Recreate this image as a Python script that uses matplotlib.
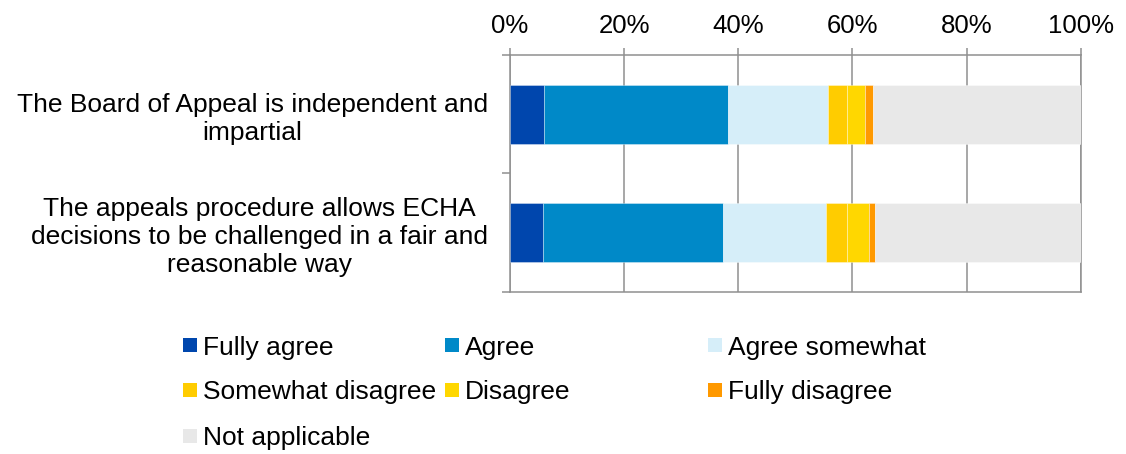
import numpy as np
import matplotlib.pyplot as plt
from matplotlib.patches import Rectangle

plt.rcParams['font.family'] = ['Liberation Sans', 'DejaVu Sans']

statements = ['The Board of Appeal is independent and\nimpartial',
              'The appeals procedure allows ECHA\ndecisions to be challenged in a fair and\nreasonable way']
answers = ['Fully agree', 'Agree', 'Agree somewhat', 'Somewhat disagree',
           'Disagree', 'Fully disagree', 'Not applicable']
colors = ['#0046AD', '#0089C8', '#D6EEF9', '#FFCC00', '#FFD700', '#FF9900', '#E8E8E8']

# share of respondents (%) per statement
fully_agree = [6.0, 5.7]
agree = [32.2, 31.7]
agree_somewhat = [17.6, 18.0]
somewhat_disagree = [3.3, 3.7]
disagree = [3.1, 3.8]
fully_disagree = [1.4, 1.1]
not_applicable = [36.4, 36.0]

series = [fully_agree, agree, agree_somewhat, somewhat_disagree,
          disagree, fully_disagree, not_applicable]

W, H = 1126, 454
fig = plt.figure(figsize=(W / 100, H / 100), dpi=100)
ax = fig.add_axes([510 / W, 1 - 291.7 / H, 570.7 / W, 236.7 / H])

grey = '#8f8f8f'
y = np.arange(len(statements))
left = np.zeros(len(statements))
for vals, col, name in zip(series, colors, answers):
    ax.barh(y, vals, left=left, height=0.5, color=col, label=name,
            edgecolor=(1, 1, 1, 0.4), linewidth=0.6, zorder=3)
    left += np.array(vals)

ax.set_xlim(0, 100)
ax.set_ylim(1.5, -0.5)
ax.xaxis.tick_top()
ax.set_xticks(np.arange(0, 101, 20))
ax.set_xticklabels([f'{v}%' for v in range(0, 101, 20)])
ax.tick_params(axis='x', length=5, width=1.1, color=grey, pad=7, labelsize=18.5)
ax.grid(axis='x', color=grey, linewidth=1.1, zorder=0)

ax.set_yticks(y)
ax.set_yticklabels(statements, multialignment='center', linespacing=1.22)
ax.tick_params(axis='y', which='major', length=0, pad=16, labelsize=19)
ax.set_yticks([-0.5, 0.5, 1.5], minor=True)
ax.tick_params(axis='y', which='minor', length=6, width=1.1, color=grey)

for sp in ax.spines.values():
    sp.set_color(grey)
    sp.set_linewidth(1.1)

# legend laid out on a fixed grid, row by row
col_x = [183, 445, 708]
row_y = [345, 390, 436]
box = 14
for i, (name, col) in enumerate(zip(answers, colors)):
    r, c = divmod(i, 3)
    x0, yc = col_x[c], row_y[r]
    fig.patches.append(Rectangle((x0 / W, 1 - (yc + box / 2) / H), box / W, box / H,
                                 transform=fig.transFigure, facecolor=col,
                                 edgecolor='none'))
    fig.text((x0 + box + 6) / W, 1 - yc / H, name, fontsize=19,
             ha='left', va='center_baseline')

fig.savefig('out.png', dpi=100)
